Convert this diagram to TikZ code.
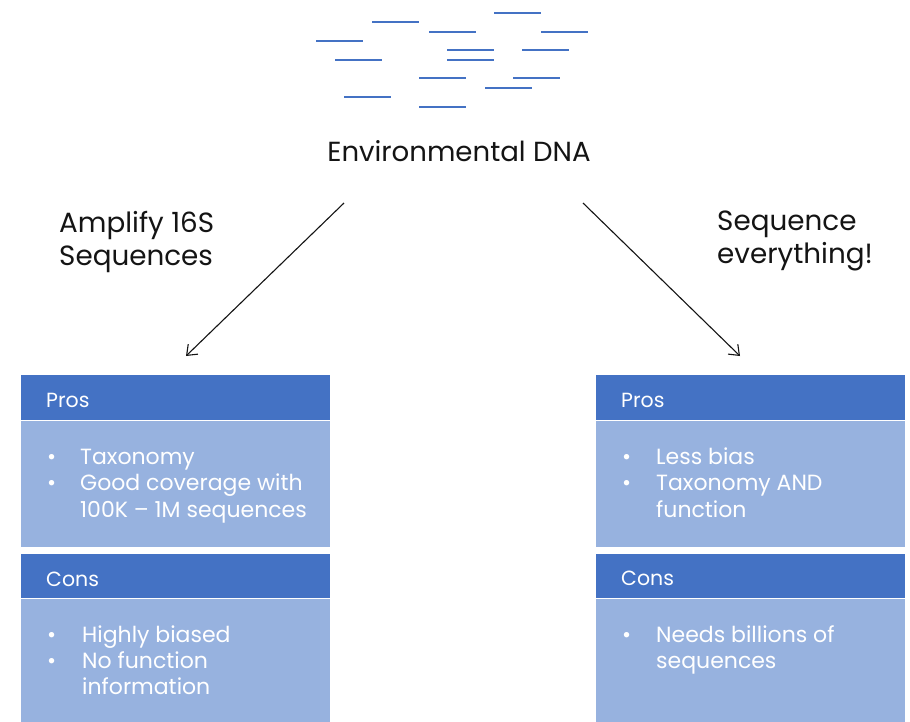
\documentclass[tikz,border=0pt]{standalone}
\usepackage{fontspec}
\setmainfont{Poppins}
\usetikzlibrary{arrows.meta}
\definecolor{hdrblue}{RGB}{68,114,196}
\definecolor{bodyblue}{RGB}{151,178,223}
\definecolor{fragblue}{RGB}{68,114,196}
\definecolor{inkgray}{RGB}{20,20,20}
\tikzset{
  frag/.style={draw=fragblue, line width=1.8pt},
  hdrbox/.style={fill=hdrblue, draw=white, line width=0.6pt, minimum width=310pt, minimum height=46pt, anchor=north west, inner sep=0pt},
  bodybox/.style={fill=bodyblue, draw=white, line width=0.6pt, minimum width=310pt, anchor=north west, inner sep=0pt},
  hdrtext/.style={text=white, font=\fontsize{20.5}{24}\selectfont, anchor=base west, inner sep=0pt},
  itemtext/.style={text=white, font=\fontsize{22}{26}\selectfont, anchor=base west, inner sep=0pt},
  bigtext/.style={text=inkgray, font=\fontsize{27.8}{32}\selectfont, anchor=base west, inner sep=0pt},
  flow/.style={draw=inkgray, line width=1.1pt, -{Straight Barb[length=9pt, width=14pt, line width=1.1pt]}},
}
\begin{document}
\begin{tikzpicture}[x=1pt, y=-1pt]
\useasboundingbox[fill=white] (0,0) rectangle (910,721);

% sequence reads
\foreach \xa/\yy in {494/13, 372/22, 429/32, 541/32, 316/41, 447/50, 522/50,
                      335/60, 447/60, 419/78, 513/78, 485/88, 344/97, 419/107}
  \draw[frag] (\xa,\yy) -- ++(47,0);

% title
\node[text=inkgray, font=\fontsize{27.6}{32}\selectfont, anchor=base, inner sep=0pt] (env) at (459,161) {Environmental DNA};

% branch labels
\node[bigtext] (amp1) at (59,232) {Amplify 16S};
\node[bigtext] (amp2) at (59,265) {Sequences};
\node[bigtext] (seq1) at (717,230) {Sequence};
\node[bigtext] (seq2) at (717,263) {everything!};

% arrows
\coordinate (la) at (344,203);
\coordinate (lb) at (186,356);
\coordinate (ra) at (583,203);
\coordinate (rb) at (740,356);
\draw[flow] (la) -- (lb);
\draw[flow] (ra) -- (rb);

% left column
\node[hdrbox] (lproshdr) at (20,374) {};
\node[bodybox, minimum height=127pt] (lprosbody) at (20,420) {};
\node[hdrbox] (lconshdr) at (20,553) {};
\node[bodybox, minimum height=130pt] (lconsbody) at (20,598) {};

\node[hdrtext] (lpros) at (46,407) {Pros};
\node[itemtext] (lb1) at (47,464) {•};
\node[itemtext] (lt1) at (80,464) {Taxonomy};
\node[itemtext] (lb2) at (47,490) {•};
\node[itemtext] (lt2) at (80,490) {Good coverage with};
\node[itemtext] (lt3) at (80,517) {100K – 1M sequences};

\node[hdrtext] (lcons) at (46,586) {Cons};
\node[itemtext] (lb3) at (47,642) {•};
\node[itemtext] (lt4) at (82,642) {Highly biased};
\node[itemtext] (lb4) at (47,668) {•};
\node[itemtext] (lt5) at (82,668) {No function};
\node[itemtext] (lt6) at (82,694) {information};

% right column
\node[hdrbox] (rproshdr) at (595,374) {};
\node[bodybox, minimum height=127pt] (rprosbody) at (595,420) {};
\node[hdrbox] (rconshdr) at (595,553) {};
\node[bodybox, minimum height=130pt] (rconsbody) at (595,598) {};

\node[hdrtext] (rpros) at (621,407) {Pros};
\node[itemtext] (rb1) at (622,464) {•};
\node[itemtext] (rt1) at (656,464) {Less bias};
\node[itemtext] (rb2) at (622,490) {•};
\node[itemtext] (rt2) at (656,490) {Taxonomy AND};
\node[itemtext] (rt3) at (656,517) {function};

\node[hdrtext] (rcons) at (621,585) {Cons};
\node[itemtext] (rb3) at (622,642) {•};
\node[itemtext] (rt4) at (656,642) {Needs billions of};
\node[itemtext] (rt5) at (656,668) {sequences};
\end{tikzpicture}
\end{document}
